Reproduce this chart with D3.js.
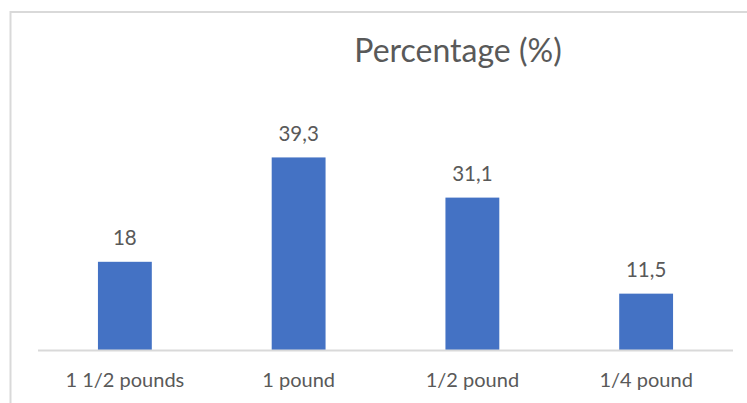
<!DOCTYPE html>
<html>
<head>
<meta charset="utf-8">
<script src="https://cdn.jsdelivr.net/npm/d3@7"></script>
<style>
  html, body { margin: 0; padding: 0; background: #ffffff; }
  svg { display: block; }
  text { font-family: Lato, "Open Sans", sans-serif; fill: #595959; }
</style>
</head>
<body>
<svg id="chart" width="747" height="403"></svg>
<script>
const categories = ["1 1/2 pounds", "1 pound", "1/2 pound", "1/4 pound"];
const values = [18, 39.3, 31.1, 11.5];
const valueLabels = ["18", "39,3", "31,1", "11,5"];
const titleText = "Percentage (%)";

const svg = d3.select("#chart");

// chart area border (top and left visible)
svg.append("rect")
  .attr("x", 10.5).attr("y", 12)
  .attr("width", 800).attr("height", 500)
  .attr("fill", "#ffffff")
  .attr("stroke", "#d9d9d9")
  .attr("stroke-width", 2);

const plot = { left: 38, right: 733, bottom: 350 };

const x = d3.scaleBand()
  .domain(categories)
  .range([plot.left, plot.right])
  .paddingInner(0.69)
  .paddingOuter(0.345);

const y = d3.scaleLinear()
  .domain([0, 45])
  .range([plot.bottom, plot.bottom - 45 * 4.9]);

// bars
svg.append("g").selectAll("rect")
  .data(categories)
  .join("rect")
  .attr("x", d => x(d))
  .attr("y", (d, i) => y(values[i]))
  .attr("width", x.bandwidth())
  .attr("height", (d, i) => y(0) - y(values[i]))
  .attr("fill", "#4472c4");

// x axis
const xAxis = svg.append("g")
  .attr("transform", `translate(0,${plot.bottom})`)
  .call(d3.axisBottom(x).tickSize(0).tickPadding(0));
xAxis.select(".domain")
  .attr("d", `M${plot.left},0.5H${plot.right}`)
  .attr("stroke", "#d9d9d9")
  .attr("stroke-width", 2);
xAxis.selectAll(".tick text")
  .attr("y", 36.5)
  .attr("dy", null)
  .style("font-family", "Lato, 'Open Sans', sans-serif")
  .style("font-size", "20px")
  .attr("fill", "#595959");

// data labels
svg.append("g").selectAll("text")
  .data(categories)
  .join("text")
  .attr("x", d => x(d) + x.bandwidth() / 2)
  .attr("y", (d, i) => y(values[i]) - 16.5)
  .attr("text-anchor", "middle")
  .style("font-size", "20.5px")
  .text((d, i) => valueLabels[i]);

// title
svg.append("text")
  .attr("x", 458)
  .attr("y", 62)
  .attr("text-anchor", "middle")
  .style("font-size", "32px")
  .text(titleText);
</script>
</body>
</html>
